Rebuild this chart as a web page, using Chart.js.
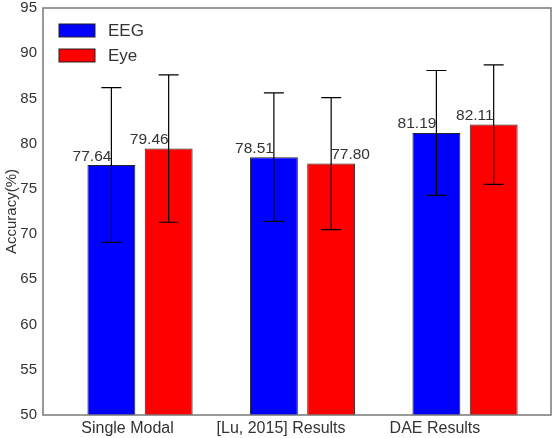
<!DOCTYPE html>
<html>
<head>
<meta charset="utf-8">
<script src="https://cdn.jsdelivr.net/npm/chart.js@4.4.1/dist/chart.umd.min.js"></script>
<style>
  html, body { margin: 0; padding: 0; background: #fff; }
  canvas { display: block; }
</style>
</head>
<body>
<canvas id="accChart" width="552" height="438"></canvas>
<script>
// data
const categories = ['Single Modal', '[Lu, 2015] Results', 'DAE Results'];
const eegMean = [77.64, 78.51, 81.19];
const eegStd = [8.55, 7.10, 6.90];
const eyeMean = [79.46, 77.80, 82.11];
const eyeStd = [8.15, 7.30, 6.60];

const textColor = '#333333';
const fontFamily = '"Liberation Sans", Arial, sans-serif';

// where the category labels sit on the x scale (they are not under the bar pairs)
const tickPos = [-0.077, 0.868, 1.815];
// label alignment relative to bar centre, per dataset
const labelAlign = [['right', 'right', 'right'], ['right', 'left', 'right']];

const toPoints = arr => arr.map((v, i) => ({ x: i, y: v }));

// frame round the plot area
const framePlugin = {
    id: 'frame',
    afterDraw(chart) {
        const { ctx, chartArea: a } = chart;
        ctx.save();
        ctx.strokeStyle = '#777777';
        ctx.lineWidth = 1.5;
        ctx.strokeRect(a.left, a.top, a.right - a.left, a.bottom - a.top);
        ctx.restore();
    }
};

// error bars + value labels
const errorPlugin = {
    id: 'errorBars',
    afterDatasetsDraw(chart) {
        const { ctx } = chart;
        const yScale = chart.scales.y;
        chart.data.datasets.forEach((ds, di) => {
            const meta = chart.getDatasetMeta(di);
            meta.data.forEach((bar, i) => {
                const m = ds.data[i].y;
                const sd = ds.errors[i];
                const yTop = yScale.getPixelForValue(m + sd);
                const yBot = yScale.getPixelForValue(m - sd);
                ctx.save();
                ctx.strokeStyle = '#000';
                ctx.lineWidth = 1.2;
                ctx.beginPath();
                ctx.moveTo(bar.x, yTop);
                ctx.lineTo(bar.x, yBot);
                ctx.moveTo(bar.x - 10, yTop);
                ctx.lineTo(bar.x + 10, yTop);
                ctx.moveTo(bar.x - 10, yBot);
                ctx.lineTo(bar.x + 10, yBot);
                ctx.stroke();

                ctx.fillStyle = textColor;
                ctx.font = '15.5px ' + fontFamily;
                ctx.textAlign = labelAlign[di][i];
                ctx.textBaseline = 'bottom';
                ctx.fillText(m.toFixed(2), bar.x, bar.y - 1);
                ctx.restore();
            });
        });
    }
};

// legend drawn inside the plot, top left
const innerLegend = {
    id: 'innerLegend',
    afterDraw(chart) {
        const { ctx, chartArea: a } = chart;
        chart.data.datasets.forEach((ds, di) => {
            const y = a.top + 16 + di * 25;
            ctx.save();
            ctx.fillStyle = ds.backgroundColor;
            ctx.strokeStyle = '#222';
            ctx.lineWidth = 1;
            ctx.fillRect(a.left + 16, y, 36, 13);
            ctx.strokeRect(a.left + 16, y, 36, 13);
            ctx.fillStyle = textColor;
            ctx.font = '17px ' + fontFamily;
            ctx.textAlign = 'left';
            ctx.textBaseline = 'middle';
            ctx.fillText(ds.label, a.left + 65, y + 7);
            ctx.restore();
        });
    }
};

new Chart(document.getElementById('accChart').getContext('2d'), {
    type: 'bar',
    data: {
        datasets: [{
            label: 'EEG',
            data: toPoints(eegMean),
            errors: eegStd,
            backgroundColor: '#0000ff',
            borderColor: '#222',
            borderWidth: 1
        }, {
            label: 'Eye',
            data: toPoints(eyeMean),
            errors: eyeStd,
            backgroundColor: '#ff0000',
            borderColor: '#222',
            borderWidth: 1
        }]
    },
    options: {
        responsive: false,
        animation: false,
        categoryPercentage: 0.746,
        barPercentage: 0.836,
        layout: { padding: { top: 8, right: 1, left: 0, bottom: 0 } },
        scales: {
            x: {
                type: 'linear',
                offset: false,
                min: -0.597,
                max: 2.529,
                grid: { display: false, drawTicks: false, offset: false },
                border: { display: false },
                afterBuildTicks: scale => {
                    scale.ticks = tickPos.map(v => ({ value: v }));
                },
                afterFit: scale => {
                    scale.height = 23;
                    scale.paddingLeft = 0;
                    scale.paddingRight = 0;
                },
                ticks: {
                    autoSkip: false,
                    maxRotation: 0,
                    padding: 4,
                    color: textColor,
                    font: { family: fontFamily, size: 16 },
                    callback: (v, i) => categories[i]
                }
            },
            y: {
                min: 50,
                max: 95,
                grid: { display: false, drawTicks: false },
                border: { display: false },
                afterFit: scale => {
                    scale.width = 43;
                    scale.paddingTop = 0;
                    scale.paddingBottom = 0;
                },
                ticks: {
                    stepSize: 5,
                    padding: 6,
                    color: textColor,
                    font: { family: fontFamily, size: 15 }
                },
                title: {
                    display: true,
                    text: 'Accuracy(%)',
                    color: textColor,
                    font: { family: fontFamily, size: 15 },
                    padding: { top: 3, bottom: 0 }
                }
            }
        },
        plugins: {
            legend: { display: false },
            tooltip: { enabled: false }
        }
    },
    plugins: [framePlugin, errorPlugin, innerLegend]
});
</script>
</body>
</html>
